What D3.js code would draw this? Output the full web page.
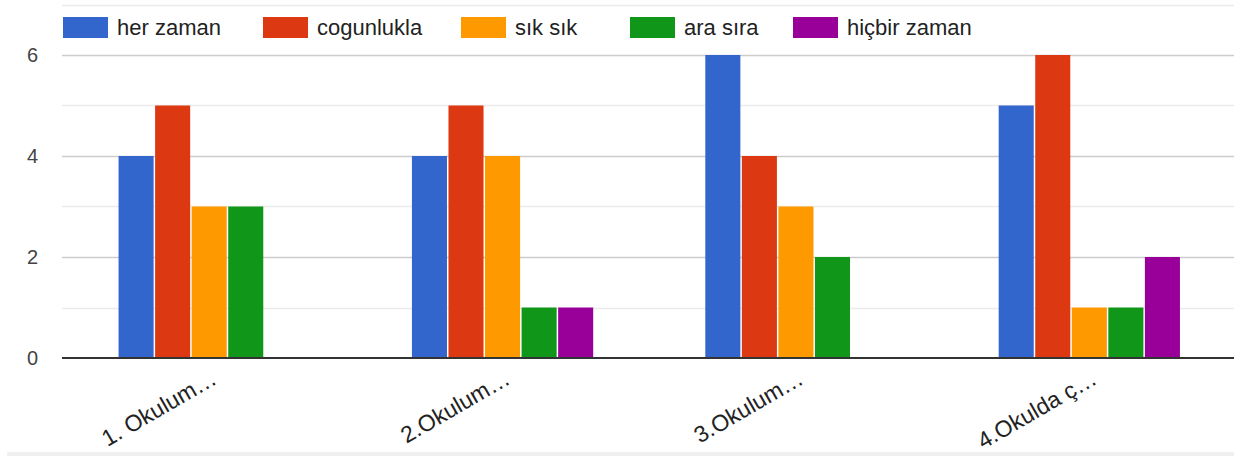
<!DOCTYPE html>
<html>
<head>
<meta charset="utf-8">
<script src="https://cdn.jsdelivr.net/npm/d3@7"></script>
<style>
  html, body { margin: 0; padding: 0; background: #fff; }
  svg { display: block; font-family: Arial, "Liberation Sans", sans-serif; }
</style>
</head>
<body>
<svg id="chart" width="1234" height="456"></svg>
<script>
// Question labels (shortened as shown on the axis)
const categories = ["1. Okulum…", "2.Okulum…", "3.Okulum…", "4.Okulda ç…"];
// Answer options
const seriesNames = ["her zaman", "cogunlukla", "sık sık", "ara sıra", "hiçbir zaman"];
const seriesColors = ["#3366cc", "#dc3912", "#ff9900", "#109618", "#990099"];
// Response counts per answer option, one value per question
const herZaman    = [4, 4, 6, 5];
const cogunlukla  = [5, 5, 4, 6];
const sikSik      = [3, 4, 3, 1];
const araSira     = [3, 1, 2, 1];
const hicbirZaman = [0, 1, 0, 2];
const seriesValues = [herZaman, cogunlukla, sikSik, araSira, hicbirZaman];
const yTicks = [0, 2, 4, 6];
const yGrid = [1, 2, 3, 4, 5, 6, 7];

const svg = d3.select("#chart");
const W = 1234, H = 456;
const plotLeft = 62, plotRight = 1234, plotTop = 4.5, plotBottom = 358;
const FONT = "Arial, 'Liberation Sans', sans-serif";

const y = d3.scaleLinear().domain([0, 7]).range([plotBottom, plotTop]);
const x0 = d3.scaleBand().domain(categories).range([plotLeft + 0.5, plotRight + 2])
  .paddingInner(0.377).paddingOuter(0.1885);
const x1 = d3.scaleBand().domain(seriesNames).range([0, x0.bandwidth()]);

// bottom strip
svg.append("rect").attr("x", 7).attr("y", 452).attr("width", W - 7).attr("height", 4)
  .attr("fill", "#f0f0f0");

// gridlines: even values darker, odd values lighter
svg.append("g").selectAll("line").data(yGrid).join("line")
  .attr("x1", plotLeft).attr("x2", plotRight)
  .attr("y1", d => Math.round(y(d)) + 0.5).attr("y2", d => Math.round(y(d)) + 0.5)
  .attr("stroke", d => d % 2 === 0 ? "#cccccc" : "#ebebeb")
  .attr("stroke-width", 1.5);

// y axis labels
const yAxis = d3.axisLeft(y).tickValues(yTicks).tickFormat(d3.format("d")).tickSize(0).tickPadding(0);
const yg = svg.append("g").attr("transform", `translate(38,0)`).call(yAxis);
yg.select(".domain").remove();
yg.selectAll("text").attr("font-size", 20).attr("fill", "#444").attr("font-family", FONT);

// bars
const groups = svg.append("g").selectAll("g").data(categories).join("g")
  .attr("transform", d => `translate(${x0(d)},0)`);
groups.selectAll("rect")
  .data((c, i) => seriesNames.map((s, j) => ({ s, v: seriesValues[j][i], color: seriesColors[j] })))
  .join("rect")
  .attr("x", d => x1(d.s) + 0.75)
  .attr("width", x1.bandwidth() - 1.5)
  .attr("y", d => y(d.v))
  .attr("height", d => y(0) - y(d.v))
  .attr("fill", d => d.color);

// baseline
svg.append("line").attr("x1", plotLeft).attr("x2", plotRight)
  .attr("y1", plotBottom).attr("y2", plotBottom)
  .attr("stroke", "#333").attr("stroke-width", 2);

// x axis labels, rotated
const xAxis = d3.axisBottom(x0).tickSize(0).tickPadding(0);
const xg = svg.append("g").attr("transform", `translate(0,${plotBottom})`).call(xAxis);
xg.select(".domain").remove();
xg.selectAll("text")
  .attr("font-size", 23).attr("fill", "#222")
  .attr("font-family", FONT)
  .attr("text-anchor", "end")
  .attr("dy", null).attr("y", null)
  .attr("transform", "translate(9,25) rotate(-30)");

// legend
const legendX = [63, 263, 461, 630, 793];
const legend = svg.append("g");
seriesNames.forEach((name, i) => {
  const item = legend.append("g").attr("transform", `translate(${legendX[i]},0)`);
  item.append("rect").attr("x", 0).attr("y", 17).attr("width", 45).attr("height", 21)
    .attr("fill", seriesColors[i]);
  item.append("text").attr("x", 54).attr("y", 35)
    .attr("font-size", 22).attr("fill", "#222").text(name);
});
</script>
</body>
</html>
